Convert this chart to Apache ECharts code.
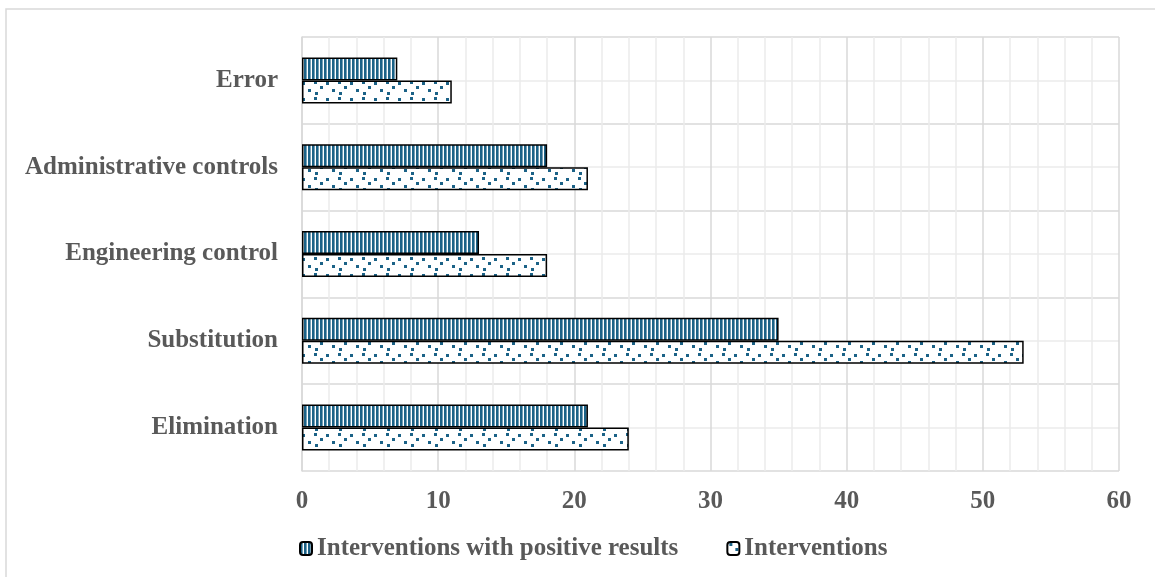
<!DOCTYPE html>
<html><head><meta charset="utf-8">
<script src="https://cdn.jsdelivr.net/npm/echarts@6/dist/echarts.min.js"></script>
<style>html,body{margin:0;padding:0;background:#fff}#c{width:1155px;height:577px}</style>
</head><body><div id="c"></div>
<script>
const categories = ['Elimination', 'Substitution', 'Engineering control', 'Administrative controls', 'Error'];
const positiveResults = [21, 35, 13, 18, 7];
const interventions = [24, 53, 18, 21, 11];
const seriesNames = ['Interventions with positive results', 'Interventions'];

function stripePattern() {
  const c = document.createElement('canvas'); c.width = 4; c.height = 4;
  const g = c.getContext('2d');
  g.fillStyle = '#fff'; g.fillRect(0, 0, 4, 4);
  g.fillStyle = '#1b6287'; g.fillRect(0, 0, 2.6, 4);
  return c;
}
function dotPattern() {
  const c = document.createElement('canvas'); c.width = 24; c.height = 16;
  const g = c.getContext('2d');
  g.fillStyle = '#fff'; g.fillRect(0, 0, 24, 16);
  g.fillStyle = '#1b6287';
  [[2,1],[14,2],[8,6],[20,9],[3,12]].forEach(p => g.fillRect(p[0], p[1], 3, 3));
  return c;
}
const chart = echarts.init(document.getElementById('c'));
const font = 'Liberation Serif';
chart.setOption({
  animation: false,
  graphic: [{ type: 'rect', shape: { x: 6, y: 9, width: 1160, height: 580 }, style: { fill: 'none', stroke: '#d9d9d9', lineWidth: 1.5 }, silent: true }],
  grid: { left: 302, right: 36, top: 37, bottom: 106 },
  legend: {
    top: 531, left: 294, itemGap: 48, itemWidth: 12, itemHeight: 13,
    textStyle: { fontFamily: font, fontWeight: 'bold', fontSize: 25, color: '#595959' },
    data: seriesNames
  },
  xAxis: {
    type: 'value', min: 0, max: 60, interval: 10,
    axisLine: { show: false }, axisTick: { show: false },
    axisLabel: { fontFamily: font, fontWeight: 'bold', fontSize: 25, color: '#595959', margin: 18 },
    splitLine: { lineStyle: { color: '#d9d9d9', width: 1.5 } },
    minorTick: { show: false, splitNumber: 5 },
    minorSplitLine: { show: true, lineStyle: { color: '#ececec', width: 1.5 } }
  },
  yAxis: [{
    type: 'category', data: categories,
    axisLine: { show: true, lineStyle: { color: '#d9d9d9', width: 1.5 } },
    axisTick: { show: false },
    axisLabel: { fontFamily: font, fontWeight: 'bold', fontSize: 25, color: '#595959', margin: 24 },
    splitLine: { show: false }
  }, {
    type: 'value', min: 0, max: 5, interval: 1, position: 'right',
    axisLine: { show: false }, axisTick: { show: false }, axisLabel: { show: false },
    splitLine: { show: true, lineStyle: { color: '#d9d9d9', width: 1.5 } },
    minorTick: { show: false, splitNumber: 2 },
    minorSplitLine: { show: true, lineStyle: { color: '#ececec', width: 1.5 } }
  }],
  series: [{
    name: seriesNames[0], type: 'bar', data: positiveResults, yAxisIndex: 0,
    barGap: '0%', barCategoryGap: '47%',
    itemStyle: { color: { image: stripePattern(), repeat: 'repeat' }, borderColor: '#000', borderWidth: 1.5 }
  }, {
    name: seriesNames[1], type: 'bar', data: interventions, yAxisIndex: 0,
    barGap: '0%', barCategoryGap: '47%',
    itemStyle: { color: { image: dotPattern(), repeat: 'repeat' }, borderColor: '#000', borderWidth: 1.5 }
  }]
});
</script></body></html>
